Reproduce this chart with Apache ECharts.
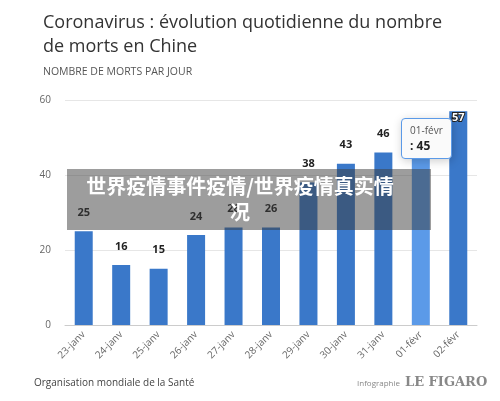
<!DOCTYPE html>
<html><head><meta charset="utf-8">
<script src="https://cdn.jsdelivr.net/npm/echarts@6/dist/echarts.min.js"></script>
<style>body{margin:0;background:#fff}#c{width:500px;height:401px}</style>
</head><body><div id="c"></div>
<script>
const days = ['23-janv','24-janv','25-janv','26-janv','27-janv','28-janv','29-janv','30-janv','31-janv','01-févr','02-févr'];
const deaths = [25, 16, 15, 24, 26, 26, 38, 43, 46, 45, 57];
const yTicks = [0, 20, 40, 60];
const highlightIdx = 9;

const chart = echarts.init(document.getElementById('c'));
chart.setOption({
  animation: false,
  textStyle: { fontFamily: 'Open Sans' },
  title: [
    { text: 'Coronavirus : évolution quotidienne du nombre\nde morts en Chine', left: 38, top: 6,
      textStyle: { fontSize: 18, fontWeight: 'normal', color: '#333', lineHeight: 24 } },
    { text: 'NOMBRE DE MORTS PAR JOUR', left: 38, top: 62,
      textStyle: { fontSize: 10.5, fontWeight: 'normal', color: '#555' } }
  ],
  tooltip: {
    trigger: 'item', alwaysShowContent: true, triggerOn: 'none',
    backgroundColor: '#fafafa', borderColor: '#5b9ae8', borderWidth: 1, padding: [4, 8],
    textStyle: { fontSize: 10, color: '#555' },
    formatter: p => p.name + '<br/><b style="font-size:12px;color:#222">: ' + p.value + '</b>'
  },
  grid: { left: 65, right: 23, top: 100, bottom: 76 },
  xAxis: {
    type: 'category', data: days,
    axisLine: { lineStyle: { color: '#ccc' } }, axisTick: { show: false },
    axisLabel: { rotate: 45, color: '#666', fontSize: 10, margin: 8 }
  },
  yAxis: {
    type: 'value', min: 0, max: 60, interval: 20,
    axisLabel: { color: '#666', fontSize: 10, margin: 14, formatter: v => yTicks.includes(v) ? v : '' },
    splitLine: { lineStyle: { color: '#e6e6e6' } }
  },
  series: [{
    type: 'bar', barWidth: 18,
    data: deaths.map((v, i) => ({ value: v, itemStyle: { color: i === highlightIdx ? '#5b9ae8' : '#3a78c9' },
      label: i === highlightIdx ? { show: false } : (i === 10 ? { position: 'insideTop', color: '#fff',
        textBorderColor: '#222', textBorderWidth: 2, offset: [0, -4] } : {}) })),
    label: { show: true, position: 'top', offset: [0, -8], fontSize: 11, fontWeight: 'bold', color: '#222' }
  }],
  graphic: [
    { type: 'rect', shape: { x: 67, y: 169, width: 364, height: 61 }, style: { fill: 'rgba(60,60,60,0.5)' }, z: 100 },
    { type: 'text', x: 240, y: 199, z: 101, style: { text: '世界疫情事件疫情/世界疫情真实情\n况', fill: '#fff',
      font: 'bold 20px "Noto Sans CJK SC"', align: 'center', verticalAlign: 'middle', lineHeight: 26 } },
    { type: 'text', left: 34, top: 378, style: { text: 'Organisation mondiale de la Santé', fill: '#444', font: '10px "Open Sans"' } },
    { type: 'text', left: 357, top: 380, style: { text: 'Infographie', fill: '#888', font: '8px "Open Sans"' } },
    { type: 'text', left: 405, top: 376, style: { text: 'LE FIGARO', fill: '#888', font: 'bold 13px "DejaVu Serif"' } }
  ]
});
chart.dispatchAction({ type: 'showTip', seriesIndex: 0, dataIndex: highlightIdx, position: [401, 118] });
</script></body></html>
